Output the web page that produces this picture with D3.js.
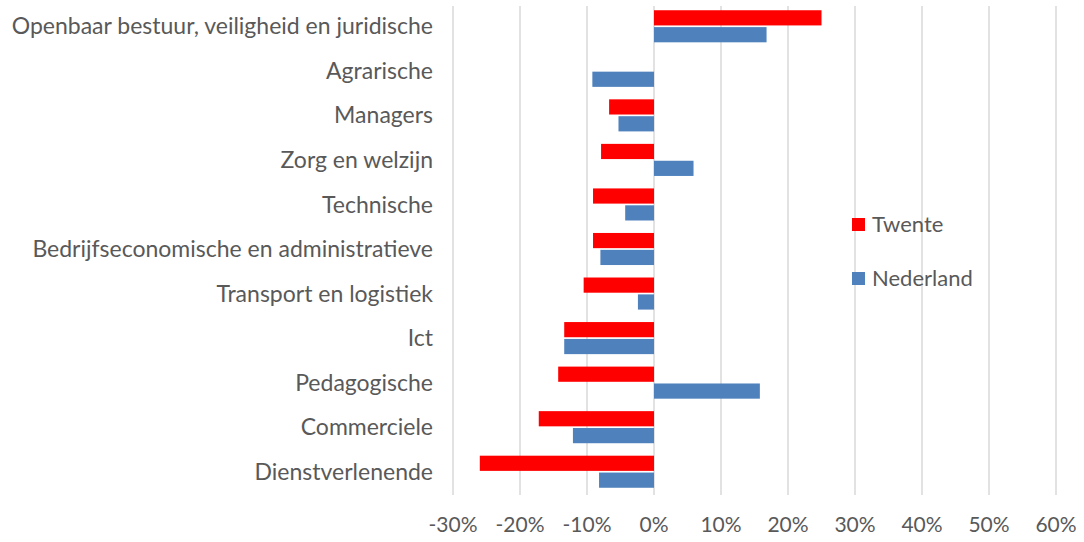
<!DOCTYPE html>
<html>
<head>
<meta charset="utf-8">
<script src="https://cdn.jsdelivr.net/npm/d3@7"></script>
<style>
  body { margin: 0; background: #fff; }
  svg text { font-family: Lato, "Open Sans", sans-serif; fill: #595959; }
</style>
</head>
<body>
<svg width="1084" height="542"></svg>
<script>
// categories, top to bottom
var categories = ["Openbaar bestuur, veiligheid en juridische", "Agrarische", "Managers",
  "Zorg en welzijn", "Technische", "Bedrijfseconomische en administratieve",
  "Transport en logistiek", "Ict", "Pedagogische", "Commerciele", "Dienstverlenende"];
var seriesNames = ["Twente", "Nederland"];
var seriesColors = ["#ff0000", "#4f81bd"];
var twente    = [0.250, 0,      -0.067, -0.079, -0.091, -0.091, -0.105, -0.134, -0.143, -0.172, -0.260];
var nederland = [0.168, -0.092, -0.053,  0.059, -0.043, -0.080, -0.024, -0.134,  0.158, -0.121, -0.082];
var xTicks = [-0.3, -0.2, -0.1, 0, 0.1, 0.2, 0.3, 0.4, 0.5, 0.6];

var svg = d3.select("svg");

var x = d3.scaleLinear().domain([-0.3, 0.6]).range([453, 1056]);
var y = d3.scaleBand().domain(categories).range([4, 494]).paddingInner(0.28).paddingOuter(0.14);
var ySub = d3.scaleBand().domain(seriesNames).range([0, y.bandwidth()]).paddingInner(0.1);

var rows = categories.map(function(c, i) {
  return {cat: c, vals: [twente[i], nederland[i]]};
});

// gridlines
svg.append("g")
  .selectAll("line")
  .data(xTicks)
  .enter().append("line")
    .attr("x1", function(d) { return x(d); })
    .attr("x2", function(d) { return x(d); })
    .attr("y1", 6)
    .attr("y2", 495)
    .attr("stroke", "#d9d9d9")
    .attr("stroke-width", 1.5);

// bars
var grp = svg.append("g")
  .selectAll("g")
  .data(rows)
  .enter().append("g")
    .attr("transform", function(d) { return "translate(0," + y(d.cat) + ")"; });

grp.selectAll("rect")
  .data(function(d) { return d.vals.map(function(v, j) { return {v: v, s: seriesNames[j], c: seriesColors[j]}; }); })
  .enter().append("rect")
    .filter(function(d) { return d.v !== 0; })
    .attr("x", function(d) { return x(Math.min(0, d.v)); })
    .attr("width", function(d) { return Math.abs(x(d.v) - x(0)); })
    .attr("y", function(d) { return ySub(d.s); })
    .attr("height", ySub.bandwidth())
    .attr("fill", function(d) { return d.c; });

// category labels
svg.append("g")
  .selectAll("text")
  .data(categories)
  .enter().append("text")
    .attr("x", 433)
    .attr("y", function(d) { return y(d) + y.bandwidth() / 2; })
    .attr("dy", "0.35em")
    .attr("text-anchor", "end")
    .style("font-size", "23px")
    .text(function(d) { return d; });

// x axis labels
svg.append("g")
  .selectAll("text")
  .data(xTicks)
  .enter().append("text")
    .attr("x", function(d) { return x(d); })
    .attr("y", 525)
    .attr("dy", "0.35em")
    .attr("text-anchor", "middle")
    .style("font-size", "21px")
    .text(function(d) { return d3.format(".0%")(d).replace("\u2212", "-"); });

// legend
var leg = svg.append("g")
  .selectAll("g")
  .data(seriesNames)
  .enter().append("g")
    .attr("transform", function(d, i) { return "translate(852," + (218 + i * 54) + ")"; });
leg.append("rect")
  .attr("width", 13).attr("height", 13)
  .attr("fill", function(d, i) { return seriesColors[i]; });
leg.append("text")
  .attr("x", 20).attr("y", 6.5).attr("dy", "0.35em")
  .style("font-size", "22px")
  .text(function(d) { return d; });
</script>
</body>
</html>
